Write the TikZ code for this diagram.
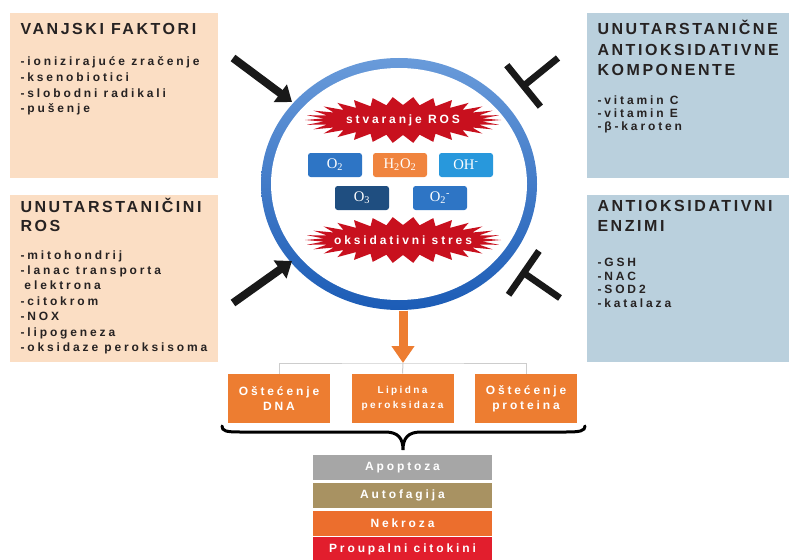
\documentclass[tikz,border=0pt]{standalone}
\usepackage{fontspec}
\newfontfamily\titlefont[LetterSpace=16]{Liberation Sans}
\newfontfamily\itemfont[LetterSpace=24]{Liberation Sans}
\newfontfamily\chemfont{Liberation Serif}
\usetikzlibrary{arrows.meta,shapes.geometric}

\tikzset{every picture/.style={line width=0.75pt}}
\tikzset{
	boxtitle/.style={anchor=base west, inner sep=0pt, align=left, text={rgb, 255:red, 38; green, 34; blue, 34 }, font=\titlefont\bfseries\fontsize{12}{#1}\selectfont},
	boxlist/.style={anchor=base west, inner sep=0pt, align=left, text={rgb, 255:red, 38; green, 34; blue, 34 }, font=\itemfont\bfseries\fontsize{9}{#1}\selectfont},
	molbox/.style={fill={#1}, rounded corners=2pt, minimum width=40.5pt, minimum height=18pt, inner sep=0pt, text=white, font=\chemfont\fontsize{11}{13}\selectfont},
	burstlabel/.style={text=white, inner sep=0pt, font=\itemfont\bfseries\fontsize{9}{11}\selectfont},
	damage/.style={fill={rgb, 255:red, 237; green, 125; blue, 49 }, minimum width=76.5pt, minimum height=36.75pt, inner sep=0pt, align=center, text=white, font=\itemfont\bfseries\fontsize{#1}{11.5}\selectfont},
	fate/.style={fill={#1}, minimum width=134.25pt, minimum height=18.75pt, inner sep=0pt, text=white, font=\itemfont\bfseries\fontsize{9}{11}\selectfont},
	pushes/.style={line width=6pt, draw={rgb, 255:red, 25; green, 25; blue, 25 }, -{Triangle[width=16pt,length=11pt]}},
	blocks/.style={line width=5pt, draw={rgb, 255:red, 25; green, 25; blue, 25 }, -{Bar[width=40pt]}},
	branch/.style={draw={rgb, 255:red, 205; green, 205; blue, 205 }, line width=0.75pt}
}

\begin{document}
\begin{tikzpicture}[x=0.75pt,y=0.75pt,yscale=-1,xscale=1]
	\useasboundingbox (0,0) rectangle (789,560);

	%Shape: Rectangle [vanjski faktori]
	\draw  [draw opacity=0][fill={rgb, 255:red, 251; green, 222; blue, 196 }  ,fill opacity=1 ] (10,13) -- (218,13) -- (218,178) -- (10,178) -- cycle ;
	%Shape: Rectangle [unutarstanicni ros]
	\draw  [draw opacity=0][fill={rgb, 255:red, 251; green, 222; blue, 196 }  ,fill opacity=1 ] (10,195) -- (218,195) -- (218,362) -- (10,362) -- cycle ;
	%Shape: Rectangle [komponente]
	\draw  [draw opacity=0][fill={rgb, 255:red, 186; green, 208; blue, 221 }  ,fill opacity=1 ] (587,13) -- (789,13) -- (789,178) -- (587,178) -- cycle ;
	%Shape: Rectangle [enzimi]
	\draw  [draw opacity=0][fill={rgb, 255:red, 186; green, 208; blue, 221 }  ,fill opacity=1 ] (587,195) -- (789,195) -- (789,362) -- (587,362) -- cycle ;

	% Text Node (base = last line)
	\node (vfTitle) [boxtitle=14.6pt] at (20,35) {VANJSKI FAKTORI};
	% Text Node
	\node (vfList) [boxlist=11.7pt] at (20,112.8) {-ionizirajuće zračenje\\-ksenobiotici\\-slobodni radikali\\-pušenje};
	% Text Node
	\node (rosTitle) [boxtitle=14.6pt] at (20,231.5) {UNUTARSTANIČINI\\ROS};
	% Text Node
	\node (rosList) [boxlist=11.6pt] at (20,351.8) {-mitohondrij\\-lanac transporta\\\phantom{-}elektrona\\-citokrom\\-NOX\\-lipogeneza\\-oksidaze peroksisoma};
	% Text Node
	\node (akTitle) [boxtitle=15.2pt] at (597,75.5) {UNUTARSTANIČNE\\ANTIOKSIDATIVNE\\KOMPONENTE};
	% Text Node
	\node (akList) [boxlist=10.1pt] at (597,131) {-vitamin C\\-vitamin E\\-β-karoten};
	% Text Node
	\node (enTitle) [boxtitle=14.3pt] at (597,231) {ANTIOKSIDATIVNI\\ENZIMI};
	% Text Node
	\node (enList) [boxlist=10.1pt] at (597,307) {-GSH\\-NAC\\-SOD2\\-katalaza};

	%Shape: Ellipse [ring]
	\node (ring) [ellipse, minimum width=207pt, minimum height=189pt, inner sep=0pt] at (399,184) {};
	\shade [top color={rgb, 255:red, 105; green, 155; blue, 218 }, bottom color={rgb, 255:red, 28; green, 92; blue, 182 }] (ring.center) ellipse [x radius=138, y radius=126] ;
	\fill [white] (ring.center) ellipse [x radius=128, y radius=116] ;

	%Shape: Burst
	\fill [fill={rgb, 255:red, 200; green, 16; blue, 30 }, shift={(403,120)}] plot [domain=0:360, samples=61, variable=\t] ({(80+18*(1+cos(30*\t))/2)*cos(\t)}, {(15+8*(1+cos(30*\t))/2)*sin(\t)}) -- cycle;
	%Shape: Burst
	\fill [fill={rgb, 255:red, 200; green, 16; blue, 30 }, shift={(403,240)}] plot [domain=0:360, samples=61, variable=\t] ({(80+18*(1+cos(30*\t))/2)*cos(\t)}, {(15+8*(1+cos(30*\t))/2)*sin(\t)}) -- cycle;
	% Text Node
	\node (stvaranje) [burstlabel] at (403,120) {stvaranje ROS};
	% Text Node
	\node (stres) [burstlabel] at (403,240) {oksidativni stres};

	% Molecules
	\node (o2) [molbox={rgb, 255:red, 46; green, 117; blue, 197 }] at (335,165) {O\textsubscript{2}};
	\node (h2o2) [molbox={rgb, 255:red, 240; green, 132; blue, 62 }] at (400,165) {H\textsubscript{2}O\textsubscript{2}};
	\node (oh) [molbox={rgb, 255:red, 40; green, 152; blue, 220 }] at (466,165) {OH\textsuperscript{-}};
	\node (o3) [molbox={rgb, 255:red, 31; green, 78; blue, 128 }] at (362,198) {O\textsubscript{3}};
	\node (o2m) [molbox={rgb, 255:red, 46; green, 117; blue, 197 }] at (440,198) {O\textsubscript{2}\textsuperscript{-}};

	% Arrows into / against the ring
	\coordinate (vfA) at (233,58);
	\coordinate (vfB) at (292,102);
	\coordinate (rosA) at (233,303);
	\coordinate (rosB) at (292,261);
	\coordinate (akA) at (558,58);
	\coordinate (akB) at (521,88);
	\coordinate (enA) at (560,298);
	\coordinate (enB) at (521,271);
	\draw [pushes] (vfA) -- (vfB);
	\draw [pushes] (rosA) -- (rosB);
	\draw [blocks] (akA) -- (akB);
	\draw [blocks] (enA) -- (enB);

	% Damage
	\node (dna) [damage=9] at (279,398.5) {Oštećenje\\DNA};
	\node (lip) [damage=7.5] at (402.5,398.5) {Lipidna\\peroksidaza};
	\node (prot) [damage=9] at (526,398.5) {Oštećenje\\proteina};

	\coordinate (split) at (403,363);
	\draw [branch] (dna.north) |- (split) -| (prot.north);
	\draw [branch] (split) -- (lip.north);
	\draw [line width=6.75pt, draw={rgb, 255:red, 237; green, 125; blue, 49 }, -{Triangle[width=16.5pt,length=12.75pt]}] (ring.south -| split) -- (split);

	%Shape: Brace
	\draw [line width=2.25pt, line cap=round] (222,426) .. controls (222,431) and (226,432) .. (240,432) -- (385,432) .. controls (398,432) and (403,438) .. (403,450) .. controls (403,438) and (408,432) .. (421,432) -- (566,432) .. controls (580,432) and (585,431) .. (585,426) ;

	% Outcomes
	\node (apoptoza) [fate={rgb, 255:red, 166; green, 166; blue, 166 }] at (402.5,467.5) {Apoptoza};
	\node (autofagija) [fate={rgb, 255:red, 168; green, 146; blue, 98 }] at (402.5,495.5) {Autofagija};
	\node (nekroza) [fate={rgb, 255:red, 236; green, 110; blue, 45 }] at (402.5,523) {Nekroza};
	\node (citokini) [fate={rgb, 255:red, 226; green, 30; blue, 45 }] at (402.5,549) {Proupalni citokini};

\end{tikzpicture}
\end{document}
